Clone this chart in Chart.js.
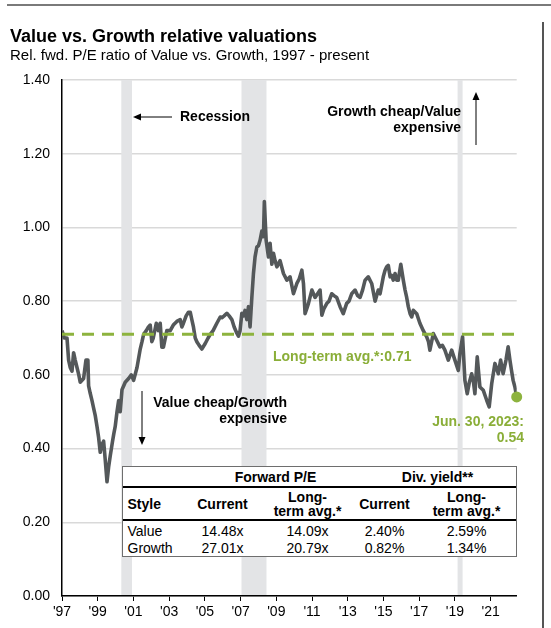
<!DOCTYPE html>
<html><head><meta charset="utf-8">
<script src="https://cdn.jsdelivr.net/npm/chart.js@4/dist/chart.umd.min.js"></script>
<style>
html,body{margin:0;padding:0;background:#fff;}
body{width:551px;height:628px;position:relative;overflow:hidden;font-family:"Liberation Sans",Arial,sans-serif;color:#000;}
#c{position:absolute;left:0;top:0;}
.t{position:absolute;white-space:nowrap;line-height:1;}
.b{font-weight:bold;}
#topline{position:absolute;left:7px;top:4px;width:544px;height:2px;background:#7a7a7a;}
#rightline{position:absolute;left:542px;top:22px;width:1.5px;height:606px;background:#555;}
#tbl{position:absolute;left:122px;top:466px;width:393px;height:89px;border:1.5px solid #6e6e6e;background:#fff;}
.hl{position:absolute;left:0;width:100%;height:2px;background:#000;}
</style>
</head><body>
<div id="topline"></div>
<div id="rightline"></div>
<canvas id="c" width="551" height="628"></canvas>
<div class="t b" style="left:10px;top:27px;font-size:18px;">Value vs. Growth relative valuations</div>
<div class="t" style="left:10px;top:47px;font-size:15px;">Rel. fwd. P/E ratio of Value vs. Growth, 1997 - present</div>
<div id="tbl"></div>
<script>
// ---- data ----
const years = [1997.00,1997.13,1997.28,1997.37,1997.46,1997.56,1997.65,1997.74,1997.84,1997.94,
1998.02,1998.21,1998.34,1998.45,1998.49,1998.58,1998.68,1998.77,1998.86,1998.96,
1999.05,1999.14,1999.23,1999.33,1999.42,1999.52,1999.61,1999.70,1999.83,1999.90,
1999.98,2000.08,2000.17,2000.26,2000.36,2000.45,2000.54,2000.73,2000.88,2001.01,
2001.20,2001.38,2001.48,2001.57,2001.72,2001.84,2001.94,2002.03,2002.11,2002.28,
2002.40,2002.50,2002.59,2002.68,2002.87,2003.06,2003.23,2003.43,2003.62,2003.71,
2003.80,2003.95,2004.08,2004.18,2004.27,2004.36,2004.46,2004.55,2004.68,2004.83,
2005.02,2005.18,2005.30,2005.46,2005.67,2005.86,2005.95,2006.08,2006.23,2006.36,
2006.51,2006.64,2006.79,2006.88,2006.97,2007.07,2007.16,2007.25,2007.35,2007.44,
2007.53,2007.63,2007.72,2007.81,2007.91,2008.00,2008.09,2008.19,2008.28,2008.33,
2008.43,2008.56,2008.65,2008.75,2008.84,2008.93,2009.03,2009.21,2009.40,2009.59,
2009.77,2009.96,2010.15,2010.28,2010.43,2010.52,2010.61,2010.71,2010.80,2010.99,
2011.17,2011.31,2011.45,2011.55,2011.67,2011.83,2011.95,2012.10,2012.23,2012.38,
2012.57,2012.75,2012.94,2013.07,2013.22,2013.41,2013.55,2013.69,2013.83,2013.97,
2014.15,2014.34,2014.53,2014.71,2014.81,2014.99,2015.09,2015.18,2015.27,2015.37,
2015.46,2015.55,2015.65,2015.74,2015.83,2015.97,2016.11,2016.21,2016.30,2016.39,
2016.49,2016.58,2016.67,2016.86,2017.04,2017.23,2017.42,2017.52,2017.60,2017.79,
2017.98,2018.16,2018.30,2018.44,2018.63,2018.82,2019.00,2019.19,2019.28,2019.43,
2019.56,2019.69,2019.81,2019.94,2020.04,2020.12,2020.25,2020.40,2020.59,2020.78,
2020.92,2021.06,2021.24,2021.43,2021.56,2021.70,2021.86,2021.98,2022.08,2022.17,
2022.26,2022.36,2022.46];
const relPE = [0.72,0.70,0.70,0.64,0.62,0.61,0.66,0.64,0.62,0.60,
0.58,0.59,0.64,0.64,0.57,0.55,0.53,0.51,0.49,0.46,
0.43,0.39,0.41,0.42,0.37,0.31,0.35,0.38,0.42,0.44,
0.46,0.50,0.53,0.50,0.56,0.57,0.58,0.59,0.60,0.585,
0.62,0.67,0.69,0.71,0.72,0.73,0.735,0.69,0.70,0.74,
0.72,0.74,0.675,0.675,0.72,0.72,0.735,0.745,0.75,0.73,
0.74,0.76,0.77,0.77,0.75,0.73,0.70,0.69,0.68,0.67,
0.685,0.70,0.71,0.72,0.74,0.757,0.755,0.76,0.767,0.76,
0.75,0.73,0.713,0.705,0.72,0.767,0.76,0.775,0.75,0.785,
0.73,0.81,0.875,0.92,0.947,0.95,0.965,0.99,0.975,1.07,
0.965,0.92,0.957,0.90,0.93,0.91,0.893,0.91,0.875,0.857,
0.866,0.82,0.848,0.86,0.884,0.848,0.766,0.78,0.794,0.83,
0.81,0.82,0.83,0.762,0.78,0.794,0.80,0.82,0.815,0.81,
0.785,0.766,0.794,0.80,0.82,0.83,0.815,0.81,0.83,0.857,
0.866,0.848,0.80,0.83,0.82,0.866,0.884,0.893,0.897,0.866,
0.87,0.857,0.875,0.857,0.857,0.90,0.857,0.83,0.81,0.785,
0.766,0.757,0.775,0.766,0.74,0.72,0.703,0.69,0.667,0.712,
0.694,0.676,0.68,0.667,0.64,0.667,0.64,0.612,0.658,0.703,
0.585,0.549,0.58,0.603,0.58,0.549,0.649,0.567,0.558,0.531,
0.513,0.576,0.631,0.603,0.64,0.603,0.64,0.676,0.64,0.612,
0.585,0.567,0.54];
const longTermAvg = 0.71;
const recessionStarts = [2000.32, 2007.05, 2019.15];
const recessionEnds   = [2000.92, 2008.45, 2019.43];
const xTickValues = [1997,1999,2001,2003,2005,2007,2009,2011,2013,2015,2017,2019,2021];
const xTickLabels = ["'97","'99","'01","'03","'05","'07","'09","'11","'13","'15","'17","'19","'21"];
const yTickValues = [0,0.2,0.4,0.6,0.8,1.0,1.2,1.4];
const tableHeaders = ["Style","Current","Long-term avg.*","Current","Long-term avg.*"];
const tableValue  = ["Value","14.48x","14.09x","2.40%","2.59%"];
const tableGrowth = ["Growth","27.01x","20.79x","0.82%","1.34%"];

const FONT = '"Liberation Sans", Arial, sans-serif';
const GREEN = '#8db33e';
const GREEN_TXT = '#8aae38';
const xMin = 1997, xMax = years[years.length-1];

// ---- table (HTML text) ----
(function(){
  const tbl = document.getElementById('tbl');
  const L = 122, T = 466;
  function put(txt, cx, cy, bold, align){
    const d = document.createElement('div');
    d.className = 't' + (bold ? ' b' : '');
    d.style.fontSize = '14px';
    d.textContent = txt;
    d.style.left = (cx - L - 1.5) + 'px';
    d.style.top = (cy - T - 1.5) + 'px';
    d.style.transform = align === 'left' ? 'translate(0,-50%)' : 'translate(-50%,-50%)';
    tbl.appendChild(d);
  }
  const hl1 = document.createElement('div'); hl1.className='hl'; hl1.style.top = (487-T-2)+'px'; tbl.appendChild(hl1);
  const hl2 = document.createElement('div'); hl2.className='hl'; hl2.style.top = (520-T-2)+'px'; tbl.appendChild(hl2);
  const colX = [128, 223, 308, 385, 467];
  put('Forward P/E', 276, 477, true);
  put('Div. yield**', 438, 477, true);
  tableHeaders.forEach((h, i) => {
    if (i === 0) { put(h, colX[0], 504, true, 'left'); return; }
    if (h.indexOf('Long-') === 0) {
      put('Long-', colX[i], 497, true);
      put(h.replace('Long-', ''), colX[i], 511, true);
    } else put(h, colX[i], 504, true);
  });
  tableValue.forEach((v, i) => put(v, colX[i], 531, false, i === 0 ? 'left' : 'c'));
  tableGrowth.forEach((v, i) => put(v, colX[i], 548, false, i === 0 ? 'left' : 'c'));
})();

// ---- plugins ----
const recessionPlugin = {
  id: 'recessions',
  beforeDatasetsDraw(chart) {
    const {ctx, chartArea: a, scales: {x}} = chart;
    ctx.save();
    ctx.fillStyle = '#e3e4e6';
    recessionStarts.forEach((s, i) => {
      const x1 = x.getPixelForValue(s), x2 = x.getPixelForValue(recessionEnds[i]);
      ctx.fillRect(x1, a.top, x2 - x1, a.bottom - a.top - 1);
    });
    ctx.restore();
  }
};
function arrow(ctx, x1, y1, x2, y2) {
  const ang = Math.atan2(y2 - y1, x2 - x1), hl = 8, hw = 3.5;
  const bx = x2 - hl * Math.cos(ang), by = y2 - hl * Math.sin(ang);
  ctx.beginPath(); ctx.moveTo(x1, y1); ctx.lineTo(bx, by); ctx.stroke();
  ctx.beginPath();
  ctx.moveTo(x2, y2);
  ctx.lineTo(bx + hw * Math.sin(ang), by - hw * Math.cos(ang));
  ctx.lineTo(bx - hw * Math.sin(ang), by + hw * Math.cos(ang));
  ctx.closePath(); ctx.fill();
}
const annotPlugin = {
  id: 'annots',
  afterDatasetsDraw(chart) {
    const ctx = chart.ctx;
    ctx.save();
    ctx.fillStyle = '#000'; ctx.strokeStyle = '#000'; ctx.lineWidth = 1;
    ctx.textBaseline = 'middle';
    ctx.font = 'bold 14px ' + FONT;
    ctx.textAlign = 'left';
    ctx.fillText('Recession', 180, 117);
    arrow(ctx, 172, 117, 133, 117);
    ctx.textAlign = 'right';
    ctx.fillText('Growth cheap/Value', 461, 112);
    ctx.fillText('expensive', 461, 128);
    arrow(ctx, 476, 145, 476, 92);
    ctx.fillText('Value cheap/Growth', 287, 403);
    ctx.fillText('expensive', 287, 419);
    arrow(ctx, 142, 391, 142, 445);
    ctx.fillStyle = GREEN_TXT;
    ctx.textAlign = 'left';
    ctx.fillText('Long-term avg.*:' + longTermAvg.toFixed(2), 273, 357);
    ctx.textAlign = 'right';
    ctx.fillText('Jun. 30, 2023:', 524, 422);
    ctx.fillText(relPE[relPE.length-1].toFixed(2), 524, 438);
    ctx.restore();
  }
};

// ---- chart ----
new Chart(document.getElementById('c'), {
  type: 'line',
  data: {
    datasets: [
      { data: years.map((x, i) => ({x, y: relPE[i]})), borderColor: '#54585a', borderWidth: 3.6,
        pointRadius: 0, tension: 0, order: 3, borderJoinStyle: 'round' },
      { data: [{x: xMin, y: longTermAvg}, {x: xMax, y: longTermAvg}], borderColor: GREEN, borderWidth: 3,
        borderDash: [12, 8], pointRadius: 0, order: 2 },
      { data: [{x: years[years.length-1], y: relPE[relPE.length-1]}], showLine: false, pointRadius: 5.5,
        pointBackgroundColor: GREEN, pointBorderWidth: 0, borderColor: GREEN, order: 1, clip: false }
    ]
  },
  options: {
    responsive: false, animation: false, devicePixelRatio: 1,
    layout: { padding: { left: 0, right: 34.3, top: 80, bottom: 0 } },
    plugins: { legend: { display: false }, tooltip: { enabled: false } },
    scales: {
      x: {
        type: 'linear', min: xMin, max: xMax,
        afterBuildTicks: s => { s.ticks = xTickValues.map(v => ({value: v})); },
        afterFit: s => { s.height = 32; },
        ticks: { autoSkip: false, maxRotation: 0, color: '#000', padding: 3,
          font: { family: FONT, size: 14 },
          callback: v => xTickLabels[xTickValues.indexOf(v)] },
        grid: { drawOnChartArea: false, drawTicks: true, tickLength: 5, color: '#000', lineWidth: 1 },
        border: { display: true, color: '#000', width: 1.5 }
      },
      y: {
        min: 0, max: 1.4,
        afterBuildTicks: s => { s.ticks = yTickValues.map(v => ({value: v})); },
        afterFit: s => { s.width = 62; },
        ticks: { color: '#000', padding: 12, font: { family: FONT, size: 14 },
          callback: v => v.toFixed(2) },
        grid: { color: '#d9d9d9', lineWidth: 1.5, drawTicks: false },
        border: { display: true, color: '#000', width: 1.5 }
      }
    }
  },
  plugins: [recessionPlugin, annotPlugin]
});
</script>
</body></html>
